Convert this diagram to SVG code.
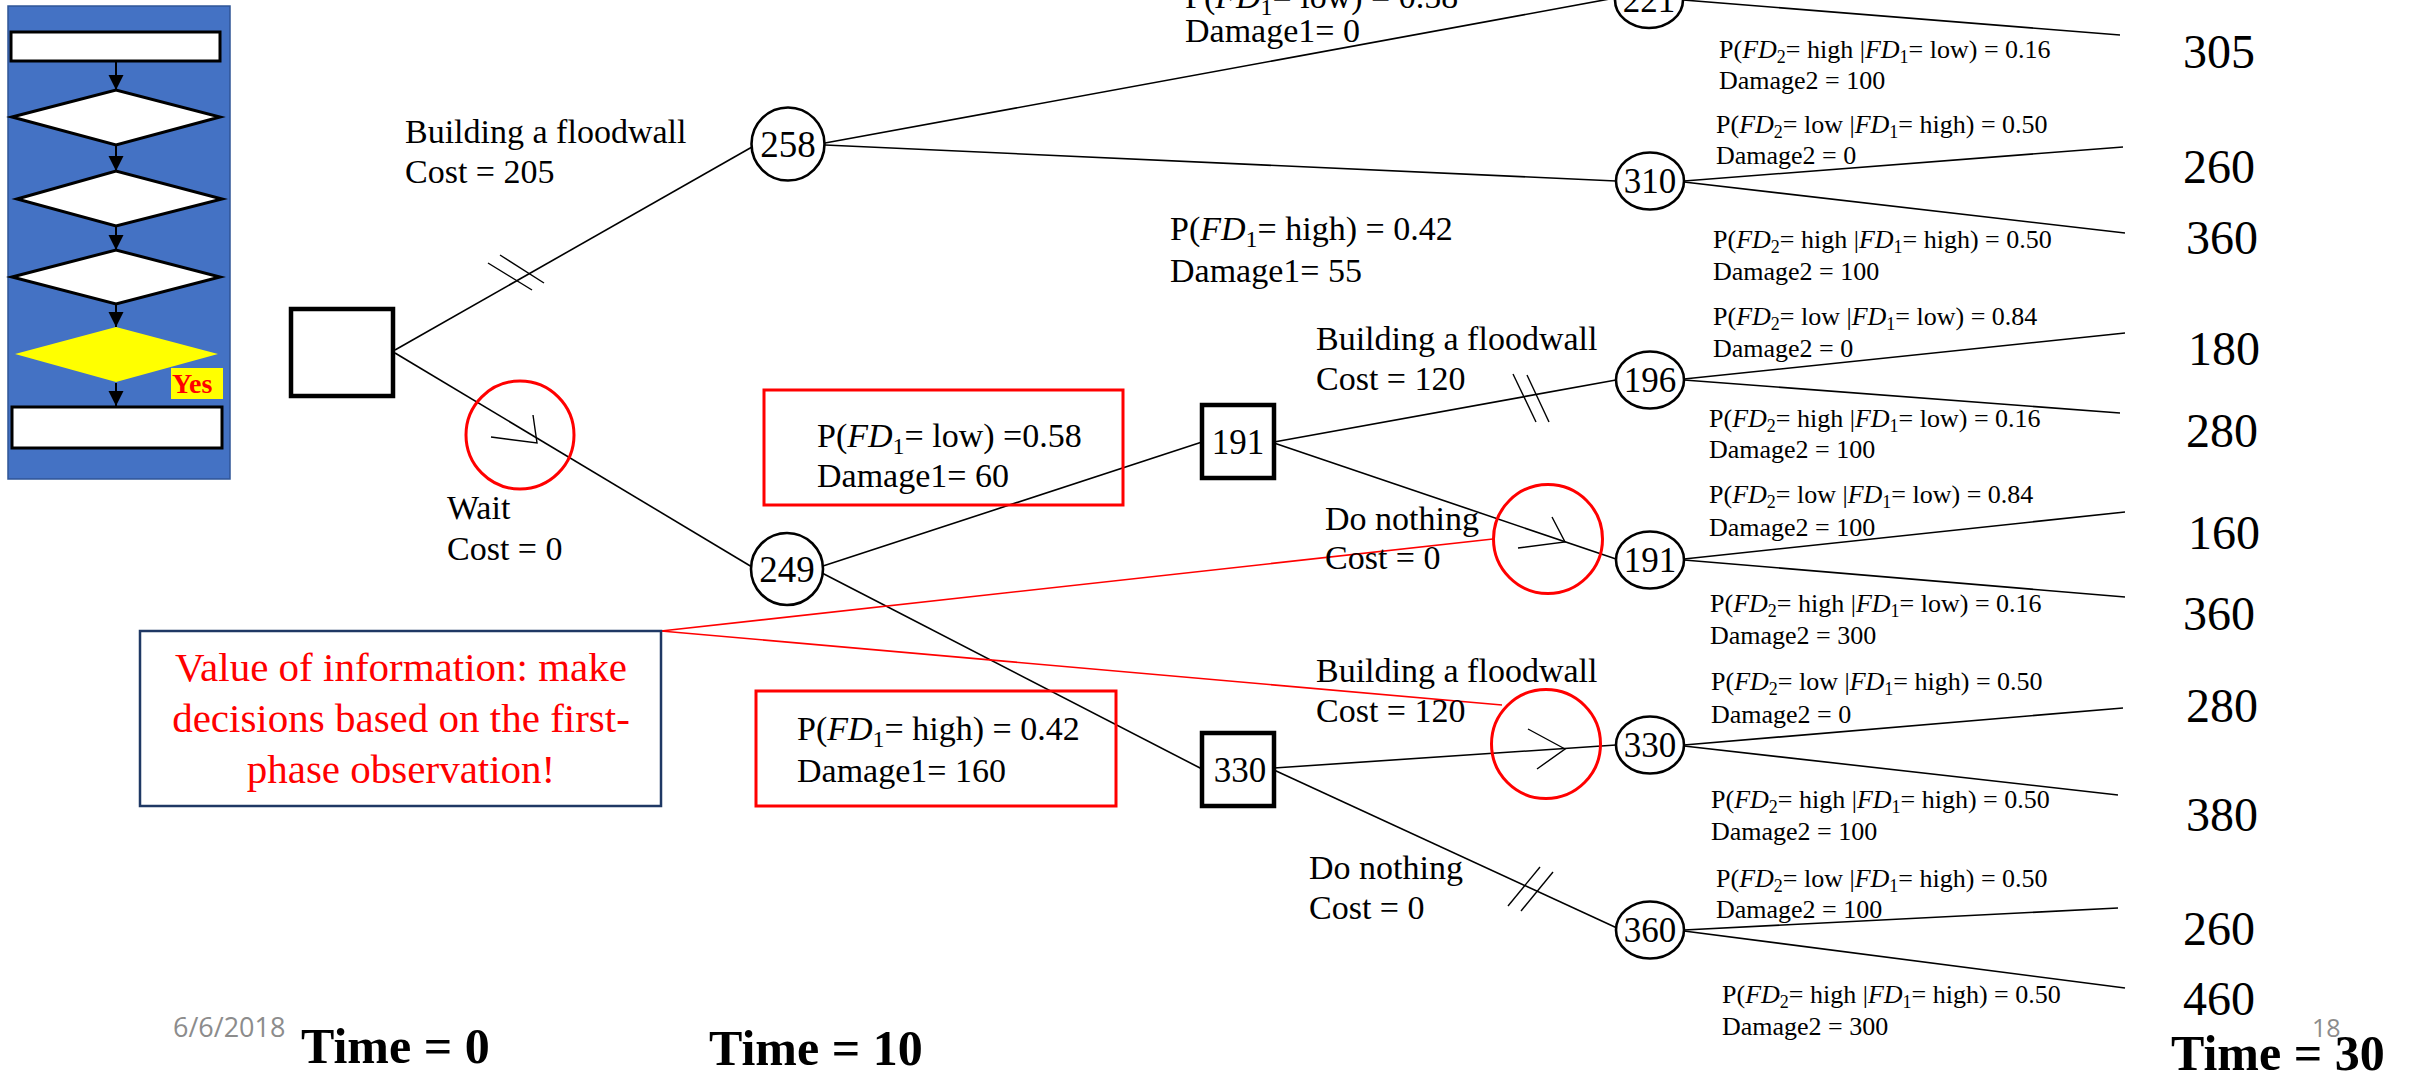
<svg xmlns="http://www.w3.org/2000/svg" width="2410" height="1075" viewBox="0 0 2410 1075">
<defs>
<style>
.t{font-family:"Liberation Serif","Times New Roman",serif;fill:#000}
.l{font-size:34px}
.s{font-size:26px}
.v{font-size:48px}
.n{font-size:35px;text-anchor:middle}
.tm{font-size:50px;font-weight:bold}
.i{font-style:italic}
.edge{stroke:#000;stroke-width:1.6;fill:none}
.hash{stroke:#000;stroke-width:1.4;fill:none}
.node{fill:#fff;stroke:#000;stroke-width:2.6}
.dec{fill:#fff;stroke:#000;stroke-width:4.5}
.rc{fill:none;stroke:#f00;stroke-width:3}
.rl{stroke:#f00;stroke-width:1.6;fill:none}
.rbox{fill:none;stroke:#f00;stroke-width:3}
.fc{fill:#fff;stroke:#000;stroke-width:3}
.gray{font-family:"Open Sans","Liberation Sans",sans-serif;fill:#8c8c8c}
</style>
<marker id="ah" viewBox="0 0 10 10" refX="10" refY="5" markerWidth="15" markerHeight="16" markerUnits="userSpaceOnUse" orient="auto">
<path d="M0,0 L10,5 L0,10 z" fill="#000"/>
</marker>
</defs>
<rect width="2410" height="1075" fill="#fff"/>

<!-- flowchart thumbnail -->
<g id="flowchart">
<rect x="8" y="6" width="222" height="473" fill="#4472C4" stroke="#2F5597" stroke-width="1.5"/>
<rect class="fc" x="11" y="32" width="209" height="29"/>
<polygon class="fc" points="12,117 116,90 220,117 116,145"/>
<polygon class="fc" points="17,199 116,171 222,199 116,226"/>
<polygon class="fc" points="12,277 116,250 220,277 116,304"/>
<polygon points="15,354 116,327 218,354 116,382" fill="#FFFF00"/>
<rect x="171" y="368" width="52" height="31" fill="#FFFF00"/>
<text class="t" x="172" y="393" font-size="28" font-weight="bold" fill="#f00" style="fill:#f00">Yes</text>
<rect class="fc" x="12" y="407" width="210" height="41"/>
<g stroke="#000" stroke-width="2" marker-end="url(#ah)">
<line x1="116" y1="62" x2="116" y2="90"/>
<line x1="116" y1="146" x2="116" y2="171"/>
<line x1="116" y1="227" x2="116" y2="250"/>
<line x1="116" y1="305" x2="116" y2="327"/>
<line x1="116" y1="383" x2="116" y2="406"/>
</g>
</g>

<!-- connectors -->
<g id="connectors">
<line class="edge" x1="395" y1="350" x2="752" y2="147"/>
<line class="edge" x1="395" y1="353" x2="752" y2="567"/>
<line class="edge" x1="825" y1="143" x2="1615" y2="-2"/>
<line class="edge" x1="825" y1="145" x2="1616" y2="181"/>
<line class="edge" x1="1683" y1="0" x2="2120" y2="35"/>
<line class="edge" x1="1684" y1="181" x2="2123" y2="147"/>
<line class="edge" x1="1684" y1="182" x2="2125" y2="233"/>
<line class="edge" x1="823" y1="566" x2="1202" y2="442"/>
<line class="edge" x1="822" y1="573" x2="1202" y2="769"/>
<line class="edge" x1="1274" y1="442" x2="1616" y2="380"/>
<line class="edge" x1="1274" y1="443" x2="1616" y2="559"/>
<line class="edge" x1="1274" y1="768" x2="1616" y2="745"/>
<line class="edge" x1="1274" y1="770" x2="1617" y2="928"/>
<line class="edge" x1="1684" y1="379" x2="2125" y2="333"/>
<line class="edge" x1="1684" y1="380" x2="2120" y2="413"/>
<line class="edge" x1="1684" y1="559" x2="2125" y2="512"/>
<line class="edge" x1="1684" y1="560" x2="2125" y2="597"/>
<line class="edge" x1="1684" y1="745" x2="2123" y2="708"/>
<line class="edge" x1="1684" y1="746" x2="2118" y2="795"/>
<line class="edge" x1="1684" y1="930" x2="2118" y2="908"/>
<line class="edge" x1="1684" y1="931" x2="2125" y2="988"/>
<!-- hash marks -->
<line class="hash" x1="488" y1="263" x2="532" y2="290"/>
<line class="hash" x1="500" y1="255" x2="544" y2="283"/>
<line class="hash" x1="1513" y1="374" x2="1536" y2="422"/>
<line class="hash" x1="1527" y1="375" x2="1549" y2="422"/>
<line class="hash" x1="1508" y1="906" x2="1540" y2="867"/>
<line class="hash" x1="1521" y1="911" x2="1553" y2="872"/>
<!-- red callout lines -->
<line class="rl" x1="661" y1="631" x2="1493" y2="539"/>
<line class="rl" x1="661" y1="631" x2="1502" y2="705"/>
</g>

<!-- red highlight circles -->
<g id="hl-wait">
<circle class="rc" cx="520" cy="435" r="54"/>
<polyline class="hash" points="491,437 537,443 533,415"/>
</g>
<g id="hl-donothing">
<circle class="rc" cx="1548" cy="539" r="54.5"/>
<polyline class="hash" points="1518,548 1565,542 1552,517"/>
</g>
<g id="hl-build">
<circle class="rc" cx="1546" cy="744" r="54.5"/>
<polyline class="hash" points="1528,729 1565,749 1537,769"/>
</g>

<!-- nodes -->
<g id="root"><rect class="dec" x="291" y="309" width="102" height="87"/></g>
<g id="n258"><circle class="node" cx="788" cy="144" r="36.5"/><text class="t n" x="788" y="157" style="font-size:37px">258</text></g>
<g id="n249"><circle class="node" cx="787" cy="569" r="36"/><text class="t n" x="787" y="582" style="font-size:37px">249</text></g>
<g id="n221"><ellipse class="node" cx="1649" cy="0" rx="34" ry="28"/><text class="t n" x="1649" y="12">221</text></g>
<g id="n310"><ellipse class="node" cx="1650" cy="181" rx="34" ry="28.5"/><text class="t n" x="1650" y="193">310</text></g>
<g id="n196"><ellipse class="node" cx="1650" cy="380" rx="34" ry="28.5"/><text class="t n" x="1650" y="392">196</text></g>
<g id="n191e"><ellipse class="node" cx="1650" cy="560" rx="34" ry="28.5"/><text class="t n" x="1650" y="572">191</text></g>
<g id="n330e"><ellipse class="node" cx="1650" cy="745" rx="34" ry="28.5"/><text class="t n" x="1650" y="757">330</text></g>
<g id="n360"><ellipse class="node" cx="1650" cy="930" rx="34" ry="28.5"/><text class="t n" x="1650" y="942">360</text></g>
<g id="d191"><rect class="dec" x="1202" y="405" width="72" height="73"/><text class="t n" x="1238" y="454">191</text></g>
<g id="d330"><rect class="dec" x="1202" y="733" width="72" height="73"/><text class="t n" x="1240" y="782">330</text></g>

<!-- branch labels -->
<g id="labels" class="t l">
<text x="405" y="143">Building a floodwall</text>
<text x="405" y="183">Cost = 205</text>
<text x="447" y="519">Wait</text>
<text x="447" y="560">Cost = 0</text>
<text x="1185" y="8">P(<tspan class="i">FD</tspan><tspan font-size="24" dy="7">1</tspan><tspan dy="-7">= low) = 0.58</tspan></text>
<text x="1185" y="42">Damage1= 0</text>
<text x="1170" y="240">P(<tspan class="i">FD</tspan><tspan font-size="24" dy="7">1</tspan><tspan dy="-7">= high) = 0.42</tspan></text>
<text x="1170" y="282">Damage1= 55</text>
<text x="1316" y="350">Building a floodwall</text>
<text x="1316" y="390">Cost = 120</text>
<text x="1325" y="530">Do nothing</text>
<text x="1325" y="569">Cost = 0</text>
<text x="1316" y="682">Building a floodwall</text>
<text x="1316" y="722">Cost = 120</text>
<text x="1309" y="879">Do nothing</text>
<text x="1309" y="919">Cost = 0</text>
</g>

<g id="box-low">
<rect class="rbox" x="764" y="390" width="359" height="115"/>
<text class="t l" x="817" y="447">P(<tspan class="i">FD</tspan><tspan font-size="24" dy="7">1</tspan><tspan dy="-7">= low) =0.58</tspan></text>
<text class="t l" x="817" y="487">Damage1= 60</text>
</g>
<g id="box-high">
<rect class="rbox" x="756" y="691" width="360" height="115"/>
<text class="t l" x="797" y="740">P(<tspan class="i">FD</tspan><tspan font-size="24" dy="7">1</tspan><tspan dy="-7">= high) = 0.42</tspan></text>
<text class="t l" x="797" y="782">Damage1= 160</text>
</g>

<g id="voi">
<rect x="140" y="631" width="521" height="175" fill="#fff" stroke="#1F3864" stroke-width="2.5"/>
<g class="t" font-size="41" text-anchor="middle" style="fill:#f00">
<text x="401" y="681">Value of information: make</text>
<text x="401" y="732">decisions based on the first-</text>
<text x="401" y="783">phase observation!</text>
</g>
</g>

<!-- outcome labels -->
<g id="outcomes" class="t s">
<text x="1719" y="58">P(<tspan class="i">FD</tspan><tspan font-size="18" dy="5">2</tspan><tspan dy="-5">= high |</tspan><tspan class="i">FD</tspan><tspan font-size="18" dy="5">1</tspan><tspan dy="-5">= low)  = 0.16</tspan></text>
<text x="1719" y="89">Damage2 = 100</text>
<text x="1716" y="133">P(<tspan class="i">FD</tspan><tspan font-size="18" dy="5">2</tspan><tspan dy="-5">= low |</tspan><tspan class="i">FD</tspan><tspan font-size="18" dy="5">1</tspan><tspan dy="-5">= high) = 0.50</tspan></text>
<text x="1716" y="164">Damage2 = 0</text>
<text x="1713" y="248">P(<tspan class="i">FD</tspan><tspan font-size="18" dy="5">2</tspan><tspan dy="-5">= high |</tspan><tspan class="i">FD</tspan><tspan font-size="18" dy="5">1</tspan><tspan dy="-5">= high) = 0.50</tspan></text>
<text x="1713" y="280">Damage2 = 100</text>
<text x="1713" y="325">P(<tspan class="i">FD</tspan><tspan font-size="18" dy="5">2</tspan><tspan dy="-5">= low |</tspan><tspan class="i">FD</tspan><tspan font-size="18" dy="5">1</tspan><tspan dy="-5">= low) = 0.84</tspan></text>
<text x="1713" y="357">Damage2 = 0</text>
<text x="1709" y="427">P(<tspan class="i">FD</tspan><tspan font-size="18" dy="5">2</tspan><tspan dy="-5">= high |</tspan><tspan class="i">FD</tspan><tspan font-size="18" dy="5">1</tspan><tspan dy="-5">= low) = 0.16</tspan></text>
<text x="1709" y="458">Damage2 = 100</text>
<text x="1709" y="503">P(<tspan class="i">FD</tspan><tspan font-size="18" dy="5">2</tspan><tspan dy="-5">= low |</tspan><tspan class="i">FD</tspan><tspan font-size="18" dy="5">1</tspan><tspan dy="-5">= low) = 0.84</tspan></text>
<text x="1709" y="536">Damage2 = 100</text>
<text x="1710" y="612">P(<tspan class="i">FD</tspan><tspan font-size="18" dy="5">2</tspan><tspan dy="-5">= high |</tspan><tspan class="i">FD</tspan><tspan font-size="18" dy="5">1</tspan><tspan dy="-5">= low) = 0.16</tspan></text>
<text x="1710" y="644">Damage2 = 300</text>
<text x="1711" y="690">P(<tspan class="i">FD</tspan><tspan font-size="18" dy="5">2</tspan><tspan dy="-5">= low |</tspan><tspan class="i">FD</tspan><tspan font-size="18" dy="5">1</tspan><tspan dy="-5">= high) = 0.50</tspan></text>
<text x="1711" y="723">Damage2 = 0</text>
<text x="1711" y="808">P(<tspan class="i">FD</tspan><tspan font-size="18" dy="5">2</tspan><tspan dy="-5">= high |</tspan><tspan class="i">FD</tspan><tspan font-size="18" dy="5">1</tspan><tspan dy="-5">= high) = 0.50</tspan></text>
<text x="1711" y="840">Damage2 = 100</text>
<text x="1716" y="887">P(<tspan class="i">FD</tspan><tspan font-size="18" dy="5">2</tspan><tspan dy="-5">= low |</tspan><tspan class="i">FD</tspan><tspan font-size="18" dy="5">1</tspan><tspan dy="-5">= high) = 0.50</tspan></text>
<text x="1716" y="918">Damage2 = 100</text>
<text x="1722" y="1003">P(<tspan class="i">FD</tspan><tspan font-size="18" dy="5">2</tspan><tspan dy="-5">= high |</tspan><tspan class="i">FD</tspan><tspan font-size="18" dy="5">1</tspan><tspan dy="-5">= high) = 0.50</tspan></text>
<text x="1722" y="1035">Damage2 = 300</text>
</g>

<g id="values" class="t v">
<text x="2183" y="68">305</text>
<text x="2183" y="183">260</text>
<text x="2186" y="254">360</text>
<text x="2188" y="365">180</text>
<text x="2186" y="447">280</text>
<text x="2188" y="549">160</text>
<text x="2183" y="630">360</text>
<text x="2186" y="722">280</text>
<text x="2186" y="831">380</text>
<text x="2183" y="945">260</text>
<text x="2183" y="1015">460</text>
</g>

<g id="footer">
<text class="gray" x="173" y="1037" font-size="27">6/6/2018</text>
<text class="gray" x="2312" y="1037" font-size="25">18</text>
<text class="t tm" x="301" y="1063">Time = 0</text>
<text class="t tm" x="709" y="1065">Time = 10</text>
<text class="t tm" x="2171" y="1070">Time = 30</text>
</g>
</svg>
